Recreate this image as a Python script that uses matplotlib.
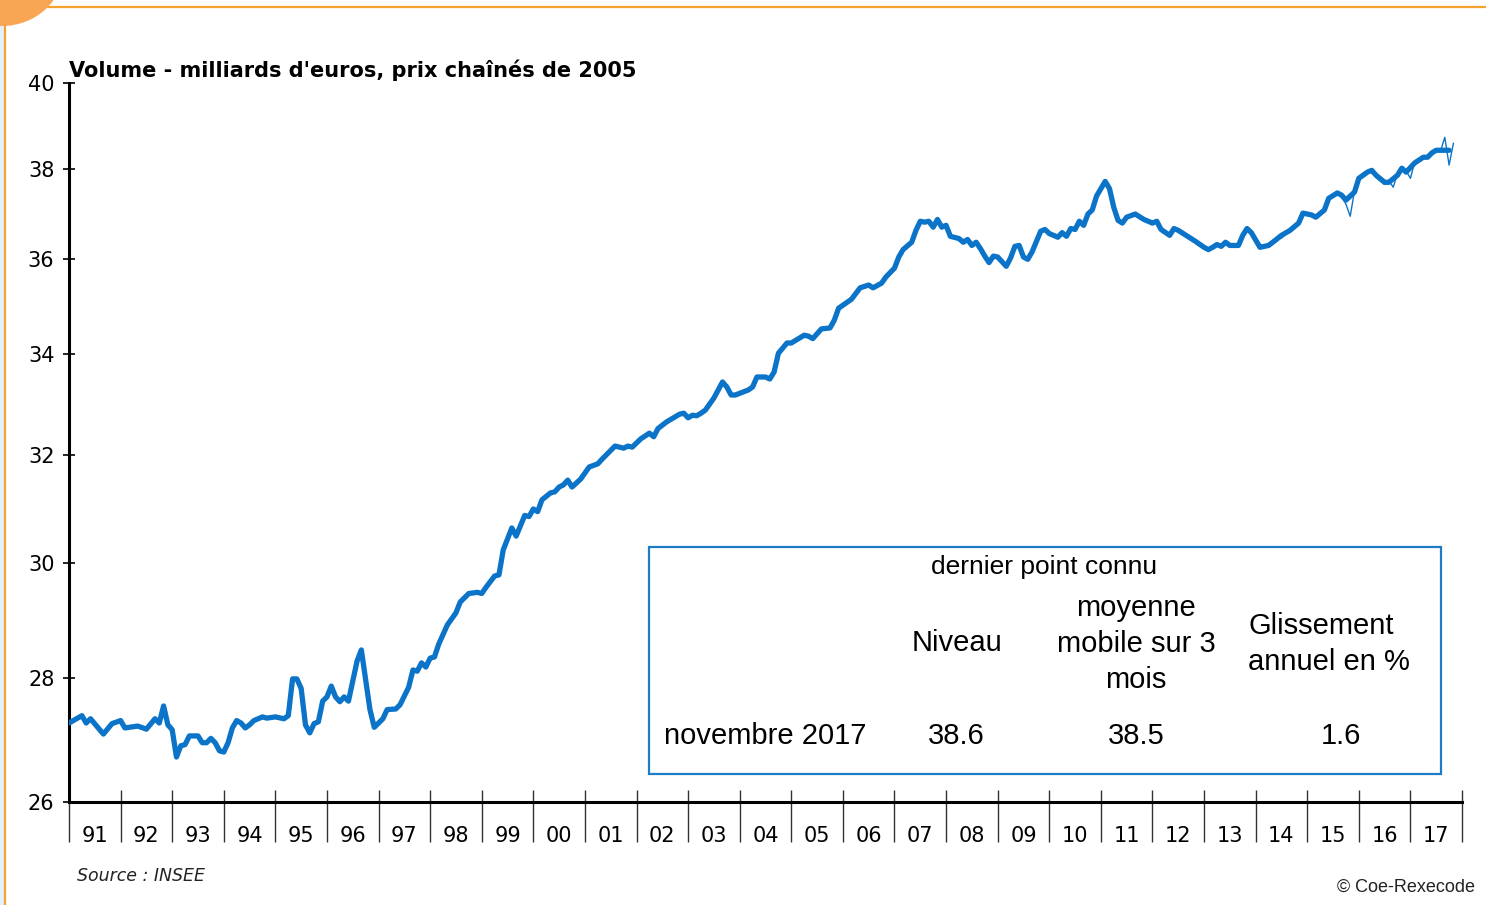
import matplotlib
matplotlib.use("Agg")
import matplotlib.pyplot as plt
import matplotlib.patches as mpatches
import matplotlib.ticker as mticker
import numpy as np

# ---------------- data (months since Jan 1991, value in bn EUR) ----------------
main_months = [0, 3, 4, 5, 8, 10, 12, 13, 16, 18, 20, 21, 22, 23, 24, 25, 26, 27, 28, 30,
               31, 32, 33, 34, 35, 36, 37, 38, 39, 40, 41, 42, 43, 45, 46, 48, 50, 51, 52, 53,
               54, 55, 56, 57, 58, 59, 60, 61, 62, 63, 64, 65, 67, 68, 69, 70, 71, 72, 73, 74,
               76, 77, 79, 80, 81, 82, 83, 84, 85, 86, 88, 90, 91, 93, 95, 96, 97, 99, 100, 101,
               103, 104, 106, 107, 108, 109, 110, 112, 113, 114, 115, 116, 117, 119, 121, 123, 124, 127, 129, 130,
               131, 133, 135, 136, 137, 139, 142, 143, 144, 145, 146, 147, 148, 150, 152, 153, 154, 155, 158, 159,
               160, 162, 163, 164, 165, 167, 168, 171, 172, 173, 175, 177, 178, 179, 182, 184, 186, 187, 189, 190,
               192, 193, 194, 196, 197, 198, 199, 200, 201, 202, 203, 204, 205, 207, 208, 209, 210, 211, 212, 213,
               214, 215, 216, 217, 218, 219, 220, 221, 222, 223, 224, 226, 227, 228, 230, 231, 232, 233, 234, 235,
               236, 237, 238, 239, 241, 242, 243, 244, 245, 246, 248, 250, 251, 252, 253, 254, 256, 257, 258, 261,
               262, 264, 265, 266, 267, 268, 269, 270, 272, 273, 274, 275, 277, 279, 280, 282, 284, 286, 287, 289,
               290, 292, 293, 295, 296, 297, 299, 300, 302, 303, 304, 306, 307, 309, 310, 311, 313, 315, 316, 317,
               318, 321]
main_values = [27.26, 27.38, 27.26, 27.33, 27.08, 27.25, 27.30, 27.18, 27.21, 27.16, 27.33, 27.26, 27.54, 27.23, 27.15, 26.71, 26.89, 26.91, 27.05, 27.05,
               26.94, 26.94, 27.01, 26.94, 26.81, 26.79, 26.94, 27.18, 27.30, 27.26, 27.18, 27.23, 27.30, 27.36, 27.34, 27.36, 27.33, 27.38, 27.99, 27.99,
               27.83, 27.23, 27.10, 27.25, 27.28, 27.62, 27.69, 27.87, 27.69, 27.61, 27.69, 27.62, 28.29, 28.48, 27.97, 27.48, 27.19, 27.26, 27.33, 27.48,
               27.49, 27.56, 27.85, 28.14, 28.12, 28.26, 28.19, 28.34, 28.36, 28.58, 28.91, 29.12, 29.31, 29.46, 29.48, 29.46, 29.57, 29.77, 29.79, 30.24,
               30.64, 30.49, 30.87, 30.85, 30.99, 30.94, 31.16, 31.29, 31.31, 31.40, 31.44, 31.53, 31.40, 31.55, 31.78, 31.84, 31.93, 32.18, 32.14, 32.18,
               32.16, 32.32, 32.43, 32.36, 32.52, 32.65, 32.80, 32.82, 32.73, 32.78, 32.77, 32.82, 32.88, 33.12, 33.44, 33.34, 33.18, 33.18, 33.28, 33.34,
               33.54, 33.54, 33.50, 33.64, 34.02, 34.23, 34.23, 34.39, 34.37, 34.32, 34.52, 34.54, 34.70, 34.95, 35.14, 35.38, 35.44, 35.38, 35.48, 35.61,
               35.80, 36.04, 36.20, 36.36, 36.62, 36.82, 36.80, 36.82, 36.69, 36.86, 36.69, 36.73, 36.49, 36.44, 36.36, 36.42, 36.29, 36.36, 36.22, 36.06,
               35.92, 36.06, 36.04, 35.94, 35.84, 36.02, 36.27, 36.29, 36.04, 35.99, 36.15, 36.60, 36.64, 36.55, 36.47, 36.57, 36.49, 36.66, 36.64, 36.82,
               36.73, 36.98, 37.07, 37.38, 37.71, 37.55, 37.13, 36.84, 36.78, 36.91, 36.98, 36.86, 36.82, 36.78, 36.82, 36.64, 36.51, 36.66, 36.62, 36.44,
               36.38, 36.25, 36.20, 36.25, 36.31, 36.27, 36.36, 36.29, 36.29, 36.51, 36.66, 36.57, 36.25, 36.29, 36.36, 36.51, 36.62, 36.78, 37.00, 36.96,
               36.91, 37.07, 37.33, 37.45, 37.40, 37.29, 37.47, 37.78, 37.92, 37.96, 37.85, 37.69, 37.69, 37.85, 38.01, 37.92, 38.13, 38.26, 38.26, 38.36,
               38.42, 38.42]

raw_months = [276, 278, 280, 282, 284, 286, 287, 289, 290, 292, 293, 295, 296, 297, 298, 299, 300, 302, 303, 304,
              306, 307, 308, 309, 310, 311, 312, 313, 314, 315, 316, 317, 318, 319, 320, 321, 322]
raw_values = [36.40, 36.25, 36.40, 36.45, 36.62, 36.80, 37.00, 36.98, 36.88, 37.10, 37.35, 37.47, 37.38, 37.20, 36.93, 37.50, 37.80, 37.95, 37.96, 37.80,
              37.64, 37.72, 37.58, 37.88, 38.02, 37.95, 37.78, 38.15, 38.20, 38.28, 38.25, 38.38, 38.45, 38.40, 38.72, 38.08, 38.58]

year_ticks = list(range(1991, 2019))
year_labels = ["91", "92", "93", "94", "95", "96", "97", "98", "99", "00", "01", "02", "03", "04",
               "05", "06", "07", "08", "09", "10", "11", "12", "13", "14", "15", "16", "17"]
y_ticks = [26, 28, 30, 32, 34, 36, 38, 40]

title = "Volume - milliards d'euros, prix chaînés de 2005"
table_header = "dernier point connu"
col_niveau = "Niveau"
col_mm = "moyenne\nmobile sur 3\nmois"
col_gl = "Glissement\nannuel en %"
row_label = "novembre 2017"
row_values = ["38.6", "38.5", "1.6"]

# ---------------- figure ----------------
W, H = 1486, 905
fig = plt.figure(figsize=(W / 100, H / 100), dpi=100)
fig.patch.set_facecolor("white")

def fx(px):
    return px / W

def fy(py):
    return 1 - py / H

BLUE = "#0B74C8"
ORANGE = "#F5A22E"

# decoration: light blue strip, orange lines, orange corner disc
fig.add_artist(mpatches.Rectangle((0, 0), fx(5), 1, transform=fig.transFigure,
                                  facecolor="#E3F0FB", edgecolor="none", zorder=0))
fig.add_artist(plt.Line2D([fx(5), fx(5)], [0, fy(20)], transform=fig.transFigure,
                          color=ORANGE, lw=1.6, zorder=1))
fig.add_artist(plt.Line2D([fx(40), 1], [fy(7.5), fy(7.5)], transform=fig.transFigure,
                          color=ORANGE, lw=1.6, zorder=1))
fig.add_artist(mpatches.Ellipse((fx(2), fy(-32)), fx(124), 116 / H, transform=fig.transFigure,
                                facecolor="#F9A654", edgecolor="none", zorder=2))

ax = fig.add_axes([fx(69), fy(802), fx(1462) - fx(69), fy(83) - fy(802)])
ax.set_facecolor("none")

main_x = [1991 + m / 12 for m in main_months]
raw_x = [1991 + m / 12 for m in raw_months]
ax.plot(raw_x, raw_values, color=BLUE, lw=1.0, zorder=3, solid_joinstyle="round")
ax.plot(main_x, main_values, color=BLUE, lw=3.8, zorder=4,
        solid_joinstyle="round", solid_capstyle="round")

ax.set_yscale("log")
ax.set_ylim(26, 40)
ax.set_xlim(1991, 2018)
ax.yaxis.set_major_locator(mticker.FixedLocator(y_ticks))
ax.yaxis.set_major_formatter(mticker.FixedFormatter([str(v) for v in y_ticks]))
ax.yaxis.set_minor_locator(mticker.NullLocator())
ax.tick_params(axis="y", which="major", direction="inout", length=9, width=1.2,
               labelsize=15, pad=6, colors="black")

ax.set_xticks(year_ticks)
ax.set_xticklabels([""] * len(year_ticks))
ax.set_xticks([y + 0.5 for y in year_ticks[:-1]], minor=True)
ax.set_xticklabels(year_labels, minor=True)
ax.tick_params(axis="x", which="major", direction="out", length=28.5, width=1.0, color="#333333")
ax.tick_params(axis="x", which="minor", length=0, labelsize=15, pad=17)
ax.vlines(year_ticks, 0, 12 / 719, transform=ax.get_xaxis_transform(),
          color="#333333", lw=1.0, zorder=2, clip_on=False)

for s in ["top", "right"]:
    ax.spines[s].set_visible(False)
ax.spines["left"].set_linewidth(2.2)
ax.spines["bottom"].set_linewidth(2.2)

for lab in ax.get_yticklabels() + ax.get_xticklabels(minor=True):
    lab.set_fontfamily("DejaVu Sans")

fig.text(fx(69), fy(70), title, fontsize=15, fontweight="bold", family="DejaVu Sans",
         ha="left", va="center", color="black")

# ---------------- table box ----------------
fig.add_artist(mpatches.Rectangle((fx(649), fy(774)), fx(1441) - fx(649), fy(547) - fy(774),
                                  transform=fig.transFigure, facecolor="white",
                                  edgecolor="#1C7CC6", lw=1.6, zorder=5))
tfont = dict(family="Liberation Sans", color="black", zorder=6)
fig.text(fx(1044), fy(567), table_header, fontsize=19, ha="center", va="center", **tfont)
fig.text(fx(957), fy(643), col_niveau, fontsize=21, ha="center", va="center", **tfont)
fig.text(fx(1136), fy(644), col_mm, fontsize=21, ha="center", va="center",
         linespacing=1.35, **tfont)
fig.text(fx(1248), fy(644), col_gl, fontsize=21, ha="left", va="center",
         multialignment="left", linespacing=1.35, **tfont)
fig.text(fx(664), fy(736), row_label, fontsize=21, ha="left", va="center", **tfont)
fig.text(fx(956), fy(736), row_values[0], fontsize=21, ha="center", va="center", **tfont)
fig.text(fx(1136), fy(736), row_values[1], fontsize=21, ha="center", va="center", **tfont)
fig.text(fx(1341), fy(736), row_values[2], fontsize=21, ha="center", va="center", **tfont)

fig.text(fx(77), fy(876), "Source : INSEE", fontsize=12.5, style="italic",
         family="DejaVu Sans", ha="left", va="center", color="#222222")
fig.text(fx(1475), fy(887), "© Coe-Rexecode", fontsize=13, family="Liberation Sans",
         ha="right", va="center", color="#222222")

fig.savefig("out.png", dpi=100, facecolor="white")
